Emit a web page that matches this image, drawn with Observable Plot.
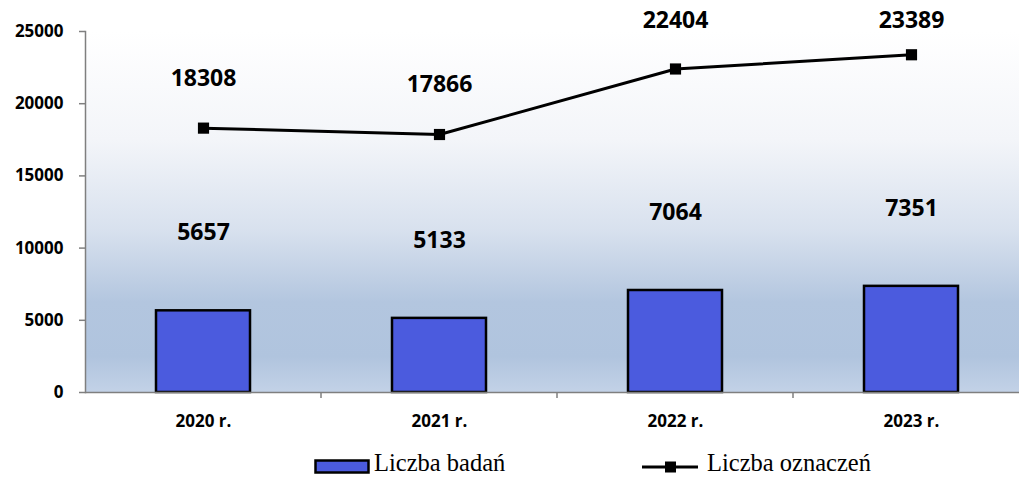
<!DOCTYPE html>
<html>
<head>
<meta charset="utf-8">
<script src="https://cdn.jsdelivr.net/npm/d3@7"></script>
<script src="https://cdn.jsdelivr.net/npm/@observablehq/plot@0.6"></script>
<style>
  html, body { margin: 0; padding: 0; background: #fff; overflow: hidden; }
  #wrap { position: relative; width: 1019px; height: 477px; }
  .leg { position: absolute; top: 449px; display: flex; align-items: flex-start; font-family: "Liberation Serif", "Times New Roman", serif; font-size: 24.5px; line-height: normal; color: #000; white-space: nowrap; }
  .leg svg { display: block; margin-top: 10px; }
</style>
</head>
<body>
<div id="wrap">
  <div id="chart"></div>
  <div class="leg" style="left:314px">
    <svg width="57" height="16"><rect x="1.5" y="1.5" width="53" height="12" fill="#4b5bde" stroke="#000" stroke-width="2.5"/></svg>
    <span style="margin-left:3px">Liczba badań</span>
  </div>
  <div class="leg" style="left:641px">
    <svg width="58" height="16"><line x1="1" y1="8" x2="57" y2="8" stroke="#000" stroke-width="3"/><rect x="24" y="2.5" width="11" height="11" fill="#000"/></svg>
    <span style="margin-left:8px">Liczba oznaczeń</span>
  </div>
</div>
<script>
const years = ["2020 r.", "2021 r.", "2022 r.", "2023 r."];
const badania = [5657, 5133, 7064, 7351];
const oznaczenia = [18308, 17866, 22404, 23389];
const yTicks = [0, 5000, 10000, 15000, 20000, 25000];

const bars = years.map((y, i) => ({year: y, value: badania[i]}));
const line = years.map((y, i) => ({year: y, value: oznaczenia[i]}));

const font = "'Open Sans', 'DejaVu Sans', sans-serif";
const innerPad = 0.6;

// tick marks at the category boundaries, positioned from the band scale
const boundaryTicks = (index, scales, values, dim) => {
  const g = d3.create("svg:g");
  const x = scales.x;
  const bw = typeof x.bandwidth === "function" ? x.bandwidth() : x.bandwidth;
  const step = typeof x.step === "function" ? x.step() : (x.step ?? bw / (1 - innerPad));
  const y0 = dim.height - dim.marginBottom;
  years.slice(1).forEach(c => {
    const xb = x(c) - (step - bw) / 2;
    g.append("line").attr("x1", xb).attr("x2", xb).attr("y1", y0).attr("y2", y0 + 6)
      .attr("stroke", "#7f7f7f").attr("stroke-width", 1.5);
  });
  return g.node();
};

const plot = Plot.plot({
  width: 1019,
  height: 445,
  marginLeft: 85,
  marginRight: -10,
  marginTop: 31,
  marginBottom: 53,
  style: {fontFamily: font, background: "transparent", overflow: "hidden"},
  x: {domain: years, paddingInner: innerPad, paddingOuter: innerPad / 2, label: null},
  y: {domain: [0, 25000], label: null},
  marks: [
    Plot.frame({fill: "url(#bgGrad)", stroke: null}),
    Plot.barY(bars, {x: "year", y: "value", fill: "#4b5bde", stroke: "#000", strokeWidth: 2.5}),
    Plot.ruleY([0], {stroke: "#7f7f7f", strokeWidth: 1.5}),
    Plot.frame({anchor: "left", stroke: "#7f7f7f", strokeWidth: 1.5}),
    boundaryTicks,
    Plot.axisY({ticks: yTicks, tickFormat: d3.format("d"), tickSize: 6, tickPadding: 16,
      fontSize: 17, fontWeight: "bold", stroke: "#7f7f7f", strokeWidth: 1.5, fill: "#000"}),
    Plot.axisX({tickSize: 0, tickPadding: 22, fontSize: 17, fontWeight: "bold", fill: "#000"}),
    Plot.line(line, {x: "year", y: "value", stroke: "#000", strokeWidth: 3}),
    Plot.dot(line, {x: "year", y: "value", symbol: "square", r: 6.3, fill: "#000"}),
    Plot.text(line, {x: "year", y: d => Math.min(d.value + 3450, 25750), text: d => String(d.value),
      fontSize: 23, fontWeight: "bold", fill: "#000"}),
    Plot.text(bars, {x: "year", y: "value", dy: -78, text: d => String(d.value),
      fontSize: 23, fontWeight: "bold", fill: "#000"})
  ]
});

const svg = d3.select(plot);
const defs = svg.insert("defs", ":first-child");
const grad = defs.append("linearGradient").attr("id", "bgGrad")
  .attr("x1", 0).attr("y1", 0).attr("x2", 0).attr("y2", 1);
[[0, "#ffffff"], [0.3, "#f3f5f9"], [0.55, "#d8e1ee"], [0.75, "#b3c6df"], [0.9, "#b0c4de"], [1, "#c3d2e7"]]
  .forEach(([o, c]) => grad.append("stop").attr("offset", o).attr("stop-color", c));

document.getElementById("chart").appendChild(plot);
</script>
</body>
</html>
